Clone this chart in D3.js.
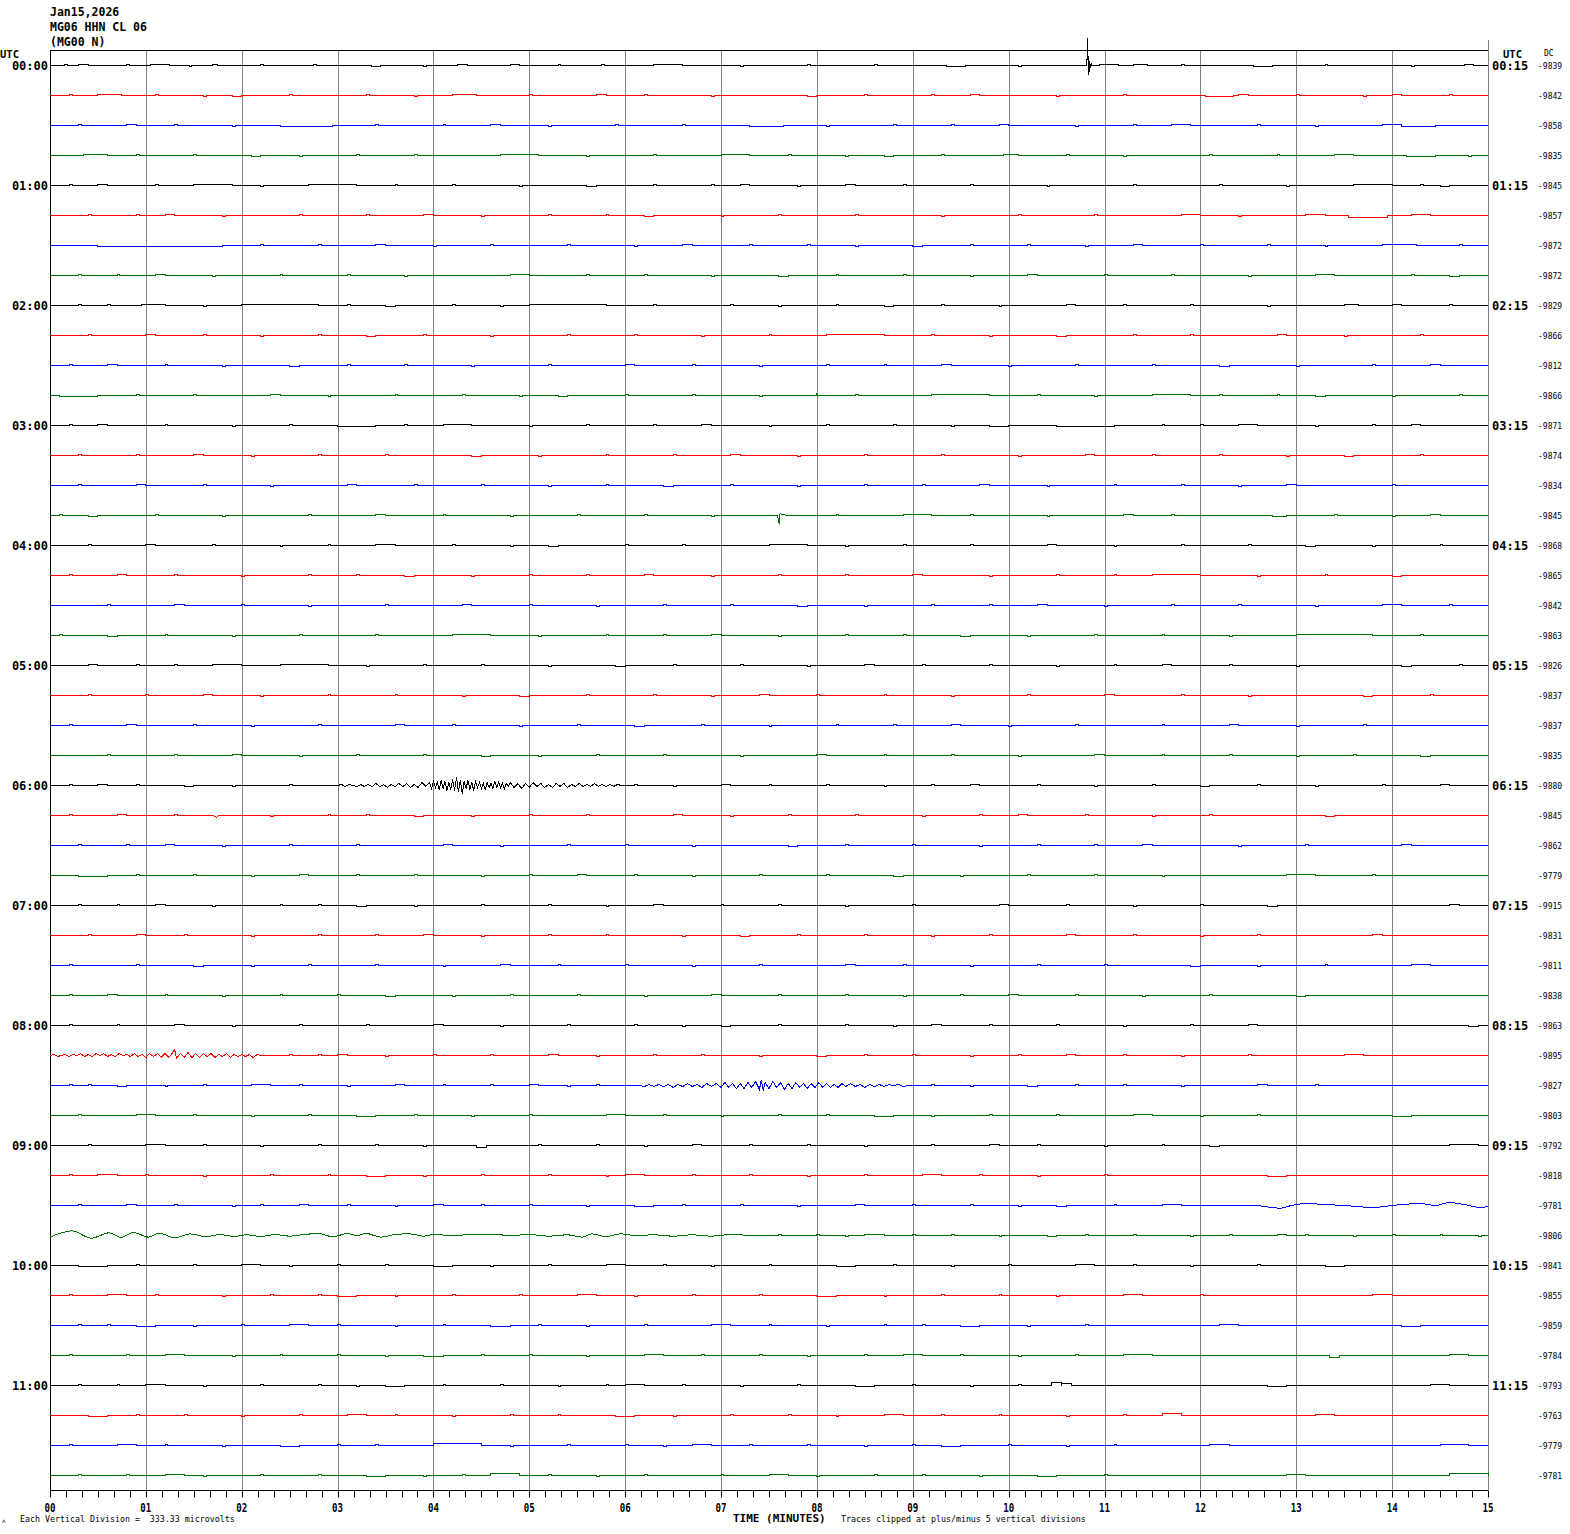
<!DOCTYPE html>
<html><head><meta charset="utf-8">
<script src="https://cdn.jsdelivr.net/npm/d3@7"></script>
<style>body{margin:0;background:#fff}svg{display:block;background:#fff}</style>
</head><body><svg id="c" width="1570" height="1534"></svg>
<script>
// ---------------- DATA ----------------
const titleLines = ["Jan15,2026", "MG06 HHN CL 06", "(MG00 N)"];
const leftHourLabels = ["00:00","01:00","02:00","03:00","04:00","05:00","06:00","07:00","08:00","09:00","10:00","11:00"];
const rightHourLabels = ["00:15","01:15","02:15","03:15","04:15","05:15","06:15","07:15","08:15","09:15","10:15","11:15"];
const minuteLabels = ["00","01","02","03","04","05","06","07","08","09","10","11","12","13","14","15"];
const dcValues = [-9839,-9842,-9858,-9835,-9845,-9857,-9872,-9872,-9829,-9866,-9812,-9866,
  -9871,-9874,-9834,-9845,-9868,-9865,-9842,-9863,-9826,-9837,-9837,-9835,
  -9880,-9845,-9862,-9779,-9915,-9831,-9811,-9838,-9863,-9895,-9827,-9803,
  -9792,-9818,-9781,-9806,-9841,-9855,-9859,-9784,-9793,-9763,-9779,-9781];
const traceColors = ["#000000", "#ff0000", "#0000ff", "#007000"];
const footLeft = "Each Vertical Division =  333.33 microvolts";
const footRight = "Traces clipped at plus/minus 5 vertical divisions";
const axisTitle = "TIME (MINUTES)";

// small steps on each trace: [startMinute, endMinute, microvolts]
const traceBumps = [
 [[0.3,0.4,33],[1.05,1.25,33],[1.7,1.75,33],[3.35,3.45,-33],[4.25,4.35,33],[4.8,4.9,33],[6.3,6.6,33],[9.35,9.55,-33],[10.95,11.15,33],[11.3,11.45,33],[12.55,12.75,-33],[14.75,14.85,33]],
 [[0.5,0.75,33],[1.9,2.0,-33],[4.2,4.45,33],[5.7,5.8,33],[7.9,8.0,-33],[9.6,9.7,33],[12.05,12.35,-33],[12.4,12.5,33],[14.0,14.1,33]],
 [[0.8,0.9,33],[2.4,2.95,-33],[4.6,4.7,33],[7.3,7.65,-33],[9.9,10.0,33],[11.7,11.9,33],[13.9,14.1,33],[14.1,14.45,-33]],
 [[0.35,0.6,33],[2.1,2.2,-33],[4.7,5.1,33],[7.0,7.3,33],[8.7,8.8,-33],[9.95,10.1,33],[13.4,13.6,33],[14.15,14.45,-33]],
 [[0.5,0.6,33],[1.5,1.9,33],[2.7,3.2,33],[5.6,5.7,-33],[7.2,7.3,33],[8.3,8.4,33],[13.6,14.0,33],[14.5,14.6,-33]],
 [[1.2,1.3,33],[3.9,4.0,33],[6.2,6.3,-33],[11.8,12.0,33],[13.1,13.3,33],[13.55,13.95,-66],[14.2,14.4,33]],
 [[0.5,1.8,-33],[3.4,3.5,33],[6.6,6.7,33],[9.0,9.1,-33],[11.3,11.4,33],[13.9,14.25,33]],
 [[1.1,1.2,33],[4.8,5.0,33],[7.6,7.7,-33],[10.2,10.3,33],[13.2,13.4,33],[14.6,14.7,-33]],
 [[0.95,1.2,33],[2.0,2.8,33],[3.5,3.6,-33],[5.0,5.8,33],[8.7,8.8,-33],[10.6,10.7,33],[13.5,13.65,33],[14.0,14.1,33]],
 [[1.0,1.1,33],[3.3,3.4,-33],[8.1,8.7,33],[10.5,10.6,-33],[12.8,12.9,33]],
 [[0.6,0.7,33],[2.5,2.6,-33],[6.0,6.1,33],[9.3,9.4,33],[12.2,12.3,-33],[14.4,14.5,33]],
 [[0.1,0.5,-33],[2.3,2.4,33],[5.3,5.4,-33],[9.2,9.8,33],[11.5,11.9,33],[13.2,13.3,-33]],
 [[0.5,0.6,33],[3.0,3.4,-33],[4.1,4.4,33],[6.8,6.9,33],[9.8,10.0,-33],[10.5,11.1,-33],[12.4,12.6,33],[14.2,14.3,33]],
 [[1.5,1.6,33],[4.4,4.5,-33],[7.1,7.2,33],[10.8,10.9,33],[13.5,13.6,-33]],
 [[0.9,1.0,33],[3.1,3.2,33],[6.4,6.5,-33],[9.7,9.8,33],[12.9,13.0,33]],
 [[0.4,0.5,-33],[3.4,3.5,33],[8.9,9.2,33],[11.2,11.3,33],[12.75,12.9,-33],[14.4,14.5,33]],
 [[1.0,1.1,33],[3.4,3.6,33],[5.2,5.3,-33],[7.5,7.9,33],[10.4,10.5,33],[13.1,13.2,-33]],
 [[0.7,0.8,33],[3.7,3.8,-33],[6.2,6.3,33],[9.0,9.1,33],[11.5,12.0,33],[14.0,14.1,-33]],
 [[1.3,1.4,33],[4.3,4.4,33],[7.8,7.9,-33],[10.3,10.4,33],[13.9,14.1,33]],
 [[0.6,0.7,-33],[4.2,4.6,33],[6.9,7.0,33],[9.5,9.6,-33],[13.0,13.8,33]],
 [[0.4,0.5,33],[1.7,2.0,33],[2.4,2.9,33],[5.9,6.0,-33],[8.5,8.6,33],[11.6,11.7,33],[14.1,14.2,-33]],
 [[1.6,1.7,33],[4.9,5.0,-33],[7.4,7.5,33],[11.0,11.1,33],[13.7,13.8,-33]],
 [[0.8,0.9,33],[3.6,3.7,33],[6.1,6.2,-33],[9.4,9.5,33],[12.3,12.4,33]],
 [[1.9,2.0,33],[4.5,4.6,-33],[8.0,8.1,33],[10.9,11.0,33],[14.3,14.4,-33]],
 [[0.5,0.6,33],[1.4,1.5,-33],[7.0,7.1,33],[9.6,9.7,33],[12.0,12.1,-33],[14.5,14.6,33]],
 [[0.7,0.8,33],[3.8,3.9,-33],[6.5,6.6,33],[10.1,10.2,33],[13.3,13.4,-33]],
 [[1.2,1.3,33],[4.1,4.2,33],[7.7,7.8,-33],[11.4,11.5,33],[14.1,14.2,33]],
 [[0.3,0.6,-33],[2.6,2.7,33],[5.5,5.6,33],[8.8,8.9,-33],[12.9,13.2,33]],
 [[1.1,1.2,33],[3.2,3.3,-33],[6.3,6.4,33],[9.9,10.0,33],[12.7,12.8,-33],[14.6,14.7,33]],
 [[0.9,1.0,33],[3.9,4.0,33],[7.2,7.3,-33],[10.6,10.7,33],[13.8,13.9,33]],
 [[1.5,1.6,-33],[4.7,4.8,33],[8.3,8.4,33],[11.9,12.0,-33],[14.2,14.4,33]],
 [[0.6,0.7,33],[3.5,3.6,-33],[6.9,7.0,33],[10.0,10.1,33],[13.0,13.1,-33]],
 [[1.3,1.4,33],[4.0,4.1,33],[7.0,7.1,-33],[9.2,9.3,33],[12.5,12.6,33],[14.8,14.9,-33]],
 [[3.0,3.1,33],[5.2,5.3,33],[8.0,8.1,-33],[10.6,10.7,33],[13.5,13.7,33]],
 [[0.7,0.8,-33],[2.1,2.3,33],[3.6,3.7,33],[5.0,5.1,33],[10.2,10.3,-33],[12.6,12.7,33]],
 [[0.9,1.1,33],[3.2,3.4,-33],[5.8,6.0,33],[8.6,8.8,-33],[11.3,11.5,33],[14.0,14.2,-33]],
 [[1.0,1.2,33],[4.45,4.55,-66],[6.7,6.8,33],[9.8,9.9,33],[12.1,12.2,-33],[14.6,14.9,33]],
 [[0.5,0.7,33],[3.3,3.5,-33],[6.0,6.2,33],[9.1,9.3,33],[12.7,12.9,-33]],
 [[0.8,0.9,33],[2.6,2.7,33],[4.0,4.1,33],[6.1,6.3,-33],[8.4,8.5,33],[10.5,10.6,-33],[11.6,11.8,33]],
 [[8.5,8.7,33],[10.4,10.5,-33],[12.8,12.9,33]],
 [[0.3,0.6,-33],[2.0,2.2,33],[4.0,4.2,-33],[5.8,6.0,33],[8.2,8.4,-33],[10.7,10.9,33],[13.3,13.5,-33]],
 [[0.6,0.8,33],[3.0,3.2,-33],[5.5,5.7,33],[8.0,8.2,-33],[11.2,11.4,33],[13.8,14.0,33]],
 [[0.9,1.1,-33],[2.5,2.7,33],[4.6,4.8,-33],[6.9,7.1,33],[9.5,9.7,-33],[12.2,12.4,33],[14.1,14.3,-33]],
 [[1.2,1.4,33],[3.9,4.1,-33],[6.2,6.4,33],[8.9,9.1,33],[11.2,11.5,33],[13.35,13.45,-66],[14.6,14.8,33]],
 [[1.0,1.2,33],[3.5,3.7,-33],[6.0,6.2,33],[8.4,8.6,-33],[10.45,10.55,100],[10.55,10.66,66],[12.7,12.9,-33],[14.4,14.6,33]],
 [[0.4,0.6,-33],[3.1,3.3,33],[5.9,6.1,-33],[8.7,8.9,33],[11.6,11.8,66],[13.2,13.4,33]],
 [[0.7,0.9,33],[2.4,2.6,-33],[4.0,4.5,66],[6.7,6.9,33],[9.3,9.5,-33],[12.1,12.3,33],[14.5,14.8,33]],
 [[1.2,1.4,33],[3.3,3.5,-33],[4.6,4.9,66],[7.5,7.7,33],[10.3,10.5,-33],[12.9,13.1,33],[14.6,15.0,66]]
];

// minute marks of short one-pixel flicks (the background noise) on each trace
const traceTicks = [
 [0.15,0.8,1.45,2.2,2.75,3.9,5.3,5.75,7.2,7.9,8.6,10.1,11.8,13.3,14.2],
 [0.2,1.1,1.6,2.5,3.3,3.8,5.0,6.2,6.9,8.5,9.2,10.5,11.2,13.0,13.7,14.6],
 [0.3,1.3,1.9,3.4,4.1,5.2,5.9,6.6,8.1,8.8,9.4,10.7,11.3,12.6,13.2],
 [0.9,1.5,2.6,3.2,3.8,5.6,6.3,7.7,8.3,9.3,10.6,11.2,12.1,12.8,14.8],
 [0.2,1.1,2.2,3.6,4.2,4.9,6.3,6.9,7.8,8.9,9.6,10.4,11.3,12.2,12.9,14.3],
 [0.4,0.9,1.8,2.6,3.3,4.5,5.2,5.8,7.0,7.6,8.4,9.3,10.1,10.9,12.4],
 [2.2,2.8,4.0,4.6,5.4,6.1,7.3,7.9,8.4,9.6,10.2,10.8,12.0,12.7,13.3,14.7],
 [0.3,0.7,1.7,2.4,3.1,3.7,5.6,6.2,6.9,8.2,8.9,9.6,11.0,11.7,12.5,14.2],
 [0.3,0.6,1.6,3.1,4.2,4.7,6.3,7.1,7.6,8.2,9.3,9.9,11.2,11.9,12.7,14.6],
 [0.4,1.6,2.2,2.8,3.9,4.6,5.4,6.1,6.8,7.5,9.2,9.8,11.3,11.9,13.5,14.3],
 [0.2,1.2,1.8,3.1,3.7,4.4,5.2,6.7,7.4,8.1,8.7,10.0,10.7,11.5,13.0,13.8],
 [0.9,1.5,2.9,3.6,4.3,4.9,6.0,6.7,7.4,8.4,10.3,10.9,12.2,12.8,14.0,14.7],
 [0.2,1.2,1.9,2.5,3.7,5.0,5.6,6.3,7.5,8.1,8.8,9.4,11.6,12.0,13.2,13.8],
 [0.3,0.9,2.1,2.8,3.5,5.1,5.8,6.5,7.8,8.5,9.3,10.1,11.5,12.2,12.9,14.3],
 [0.3,1.6,2.3,3.8,4.5,5.2,5.8,7.1,7.8,8.5,9.1,10.4,11.1,11.8,12.4,14.0],
 [0.1,1.1,1.8,2.7,4.1,4.8,5.5,6.2,6.9,8.2,9.6,10.4,11.7,13.4,14.0],
 [0.4,1.7,2.4,2.9,4.2,4.8,6.0,6.6,8.3,8.9,9.6,11.1,11.8,12.5,13.8,14.5],
 [0.2,1.3,2.0,2.7,3.2,4.4,5.0,5.6,6.9,7.6,8.3,9.8,10.5,11.1,12.6,13.3],
 [0.6,2.0,2.7,3.5,5.0,5.7,6.4,7.1,8.5,9.2,9.8,11.0,11.7,12.4,13.2,14.6],
 [0.1,1.2,1.9,2.6,3.4,5.1,5.8,6.4,7.6,8.3,8.9,10.2,10.9,11.6,12.3,14.3],
 [0.9,1.3,3.3,3.9,4.5,5.2,6.5,7.2,7.9,9.1,9.8,10.5,11.1,12.3,13.0,14.7],
 [0.4,1.0,2.2,2.9,3.6,4.3,5.6,6.3,6.9,8.0,8.7,9.4,10.2,11.8,12.5,14.4],
 [0.2,1.5,2.1,2.8,4.2,4.9,5.5,6.8,7.5,8.2,8.8,10.0,10.7,11.6,13.0,13.7],
 [0.6,1.3,2.6,3.2,3.9,5.1,5.7,6.4,7.2,8.7,9.4,10.1,11.6,12.3,13.0,13.6],
 [0.2,0.9,1.9,2.5,6.1,6.5,7.5,8.1,8.7,9.2,10.3,10.9,11.5,12.6,13.2,13.9],
 [0.2,1.3,2.3,2.9,3.3,4.4,5.0,5.6,7.1,7.7,8.4,9.1,9.7,10.8,11.5,12.1],
 [0.3,0.8,1.8,2.5,3.2,4.7,5.4,6.0,6.7,8.3,9.0,9.7,10.3,10.9,12.4,13.1],
 [0.9,1.5,2.1,3.2,3.8,4.5,5.0,6.1,6.7,7.4,8.1,9.5,10.2,10.9,11.6,13.8],
 [0.3,0.7,1.7,2.4,2.8,3.8,4.5,5.2,5.8,7.0,7.6,8.3,9.0,10.6,11.3,12.0],
 [0.4,1.4,2.1,2.8,3.4,4.5,5.2,5.8,6.6,7.8,8.5,9.2,9.8,11.3,12.0,12.6],
 [0.2,0.9,2.1,2.7,3.4,4.1,5.3,6.0,6.7,7.4,8.9,9.6,10.3,11.0,12.6,13.3],
 [0.2,1.2,1.8,2.4,3.0,4.2,4.8,5.5,6.2,7.6,8.3,8.9,9.5,10.7,11.4,12.1],
 [0.2,0.7,1.9,2.6,3.3,4.7,5.4,6.1,6.6,7.6,8.3,8.8,9.8,10.5,11.2,11.9],
 [2.5,2.8,3.5,4.0,4.6,5.7,6.3,6.8,7.4,8.5,9.0,9.6,10.1,11.2,11.8,12.5],
 [0.2,0.4,1.2,1.6,2.6,3.1,4.1,4.6,5.4,5.7,9.2,9.6,10.7,11.2,11.8,13.2],
 [0.3,1.5,2.1,2.7,3.8,4.4,5.0,6.4,7.0,7.6,8.1,9.2,9.8,10.5,12.0,12.6],
 [0.4,1.6,2.2,2.8,3.4,3.9,5.1,5.7,6.2,7.3,7.9,8.5,9.2,10.3,11.0,11.6],
 [0.2,1.0,1.6,2.3,2.9,3.9,4.5,5.2,5.8,6.7,7.3,7.9,8.5,9.7,10.3,11.0],
 [0.3,1.3,1.9,2.2,3.1,3.6,4.5,5.0,5.6,6.6,7.2,7.8,9.0,9.6,10.1,11.1],
 [7.6,8.0,8.3,9.0,9.4,9.9,10.8,11.3,11.9,12.3,13.1,13.6,14.0,14.5,14.9],
 [0.9,1.5,2.5,3.0,3.5,4.6,5.2,6.4,6.9,7.5,8.8,9.4,10.0,11.3,11.9,12.6],
 [0.2,1.1,1.8,2.3,2.8,3.6,4.2,4.9,6.1,6.7,7.4,8.7,9.3,9.9,10.5,12.0],
 [0.3,0.6,1.5,2.0,3.0,3.6,4.1,5.1,5.6,6.2,7.5,8.1,8.7,9.1,10.2,10.8],
 [0.2,0.8,1.9,2.4,3.0,3.5,4.5,5.0,5.6,6.8,7.4,7.9,8.5,9.5,10.1,10.7],
 [0.3,0.7,1.6,2.2,2.8,3.2,4.1,4.7,5.3,5.8,6.6,7.2,7.8,9.0,9.6,10.1],
 [0.9,1.4,2.0,2.6,3.6,4.2,4.8,5.3,6.5,7.1,7.7,8.2,9.3,9.9,10.6,11.2],
 [0.2,1.2,1.8,3.0,3.4,4.8,5.4,6.0,6.4,7.3,7.9,8.5,9.0,10.0,10.6,11.1],
 [0.3,0.8,1.6,2.2,2.8,3.9,4.3,5.2,5.7,6.2,7.0,8.0,8.6,9.1,9.7,11.0]
];

// events: [minute, microvolts]
const spike0000 = [[10.815,0],[10.825,930],[10.83,-310],[10.835,330],[10.84,-200],[10.845,150],[10.85,-90],[10.86,60],[10.87,0]];
const blip0230 = [[7.99,0],[8.0,66],[8.01,0]];
const spike0345 = [[7.59,0],[7.605,-270],[7.615,66],[7.63,33],[7.66,33],[7.68,0]];
const quake0600 = [[3.00,0],[3.04,33],[3.08,-33],[3.12,33],[3.16,0],[3.20,-33],[3.24,33],[3.28,-33],[3.32,33],[3.36,-33],[3.40,66],[3.44,-33],[3.48,33],[3.52,-66],[3.56,33],[3.60,-33],[3.64,66],[3.68,-33],[3.72,66],[3.76,-66],[3.80,33],[3.84,-66],[3.88,100],[3.92,-33],
 [3.96,100],[3.98,-100],[4.00,133],[4.02,-66],[4.04,100],[4.06,-133],[4.08,166],[4.10,-100],[4.12,133],[4.14,-166],[4.16,100],[4.18,-133],[4.20,200],[4.22,-166],[4.24,266],[4.26,-200],[4.28,166],[4.30,-266],[4.32,133],[4.34,-100],[4.36,166],[4.38,-133],[4.40,100],[4.42,-166],[4.44,133],[4.46,-66],[4.48,100],[4.50,-100],[4.52,66],[4.54,-133],[4.56,100],[4.58,-66],[4.60,66],[4.62,-100],[4.64,133],[4.66,-66],[4.68,100],[4.70,-66],[4.72,66],[4.74,-100],[4.76,66],[4.78,-33],
 [4.80,100],[4.84,-66],[4.88,66],[4.92,-100],[4.96,66],[5.00,-66],[5.04,100],[5.08,-33],[5.12,66],[5.16,-66],[5.20,33],[5.24,-66],[5.28,66],[5.32,-33],[5.36,66],[5.40,-66],[5.44,33],[5.48,-33],[5.52,66],[5.56,-33],[5.60,33],[5.64,-33],[5.68,66],[5.72,-33],[5.76,33],[5.80,-33],[5.84,33],[5.88,-33],[5.92,33],[5.96,0]];
const blip0615 = [[1.70,0],[1.72,-33],[1.74,-66],[1.76,0]];
const noise0815 = [[0.00,0],[0.04,33],[0.08,-33],[0.12,0],[0.16,33],[0.20,-33],[0.24,33],[0.28,0],[0.32,66],[0.36,-33],[0.40,33],[0.44,-33],[0.48,66],[0.52,0],[0.56,66],[0.60,-33],[0.64,33],[0.68,-33],[0.72,66],[0.76,0],[0.80,33],[0.84,-33],[0.88,66],[0.92,-33],[0.96,33],[1.00,-66],[1.04,66],[1.08,-33],[1.12,66],[1.16,-66],[1.20,66],[1.24,-66],[1.28,100],[1.30,190],[1.32,-100],[1.36,66],[1.40,-66],[1.44,100],[1.48,-66],[1.52,66],[1.56,-66],[1.60,66],[1.64,-33],[1.68,66],[1.72,-66],[1.76,33],[1.80,-33],[1.84,66],[1.88,-66],[1.92,33],[1.96,-33],[2.00,33],[2.04,-33],[2.08,33],[2.12,-66],[2.16,33],[2.20,0]];
const quake0830 = [[6.15,0],[6.20,-33],[6.25,33],[6.30,-33],[6.35,33],[6.40,-33],[6.45,33],[6.50,-66],[6.55,33],[6.60,-33],[6.65,66],[6.70,-33],[6.75,33],[6.80,-66],[6.85,66],[6.90,-33],[6.95,66],[7.00,-66],[7.04,100],[7.08,-66],[7.12,66],[7.16,-100],[7.20,66],[7.24,-100],[7.28,100],[7.32,-66],[7.36,133],[7.40,-133],[7.42,190],[7.44,-170],[7.46,100],[7.50,-100],[7.54,133],[7.58,-66],[7.62,100],[7.66,-133],[7.70,66],[7.74,-100],[7.78,100],[7.82,-66],[7.86,66],[7.90,-100],[7.94,66],[7.98,-66],[8.02,100],[8.06,-66],[8.10,66],[8.14,-66],[8.18,33],[8.22,-66],[8.26,66],[8.30,-33],[8.35,66],[8.40,-33],[8.45,33],[8.50,-66],[8.55,33],[8.60,-33],[8.65,33],[8.70,-33],[8.75,33],[8.80,0],[8.85,33],[8.90,-33],[8.95,0]];
const waves0930 = [[12.6,0],[12.84,-90],[12.95,0],[13.1,66],[13.3,33],[13.5,0],[13.8,-66],[14.0,0],[14.3,66],[14.45,0],[14.6,100],[14.75,33],[14.92,-66],[15.0,-33]];
const waves0945 = [[0.00,-55],[0.23,155],[0.43,-90],[0.62,90],[0.74,-66],[0.87,100],[1.03,-55],[1.13,77],[1.31,-77],[1.46,55],[1.63,-44],[1.77,33],[1.92,-33],[2.05,22],[2.2,-33],[2.35,33],[2.5,-22],[2.65,33],[2.8,66],[2.95,-44],[3.1,66],[3.2,0],[3.3,66],[3.45,-55],[3.6,33],[3.75,55],[3.9,-22],[4.0,33],[4.2,0],[4.4,33],[4.6,44],[4.8,0],[5.0,33],[5.2,-22],[5.4,22],[5.55,-55],[5.65,55],[5.8,-33],[5.95,55],[6.1,0],[6.3,22],[6.5,-22],[6.7,22],[6.9,-22],[7.1,33],[7.3,0]];

const traceEvents = [
  {trace: 0,  points: spike0000, smooth: false},
  {trace: 11, points: blip0230,  smooth: false},
  {trace: 15, points: spike0345, smooth: false},
  {trace: 24, points: quake0600, smooth: false},
  {trace: 25, points: blip0615,  smooth: false},
  {trace: 33, points: noise0815, smooth: false},
  {trace: 34, points: quake0830, smooth: false},
  {trace: 38, points: waves0930, smooth: true},
  {trace: 39, points: waves0945, smooth: true}
];

// ---------------- DRAW ----------------
(function draw() {
const svg = d3.select("#c");
const W = 1570, H = 1534;
const pLeft = 50, pRight = 1488, pTop = 50, pBottom = 1490;
const nTraces = dcValues.length;

const x = d3.scaleLinear().domain([0, 15]).range([pLeft, pRight]);
const band = d3.scaleBand().domain(d3.range(nTraces)).range([pTop, pBottom]);
const yc = i => Math.round(band(i) + band.bandwidth() / 2);
const amp = d3.scaleLinear().domain([-333.33, 333.33]).range([10, -10]); // 1 division = 10 px

const mono = "'DejaVu Sans Mono', 'Liberation Mono', monospace";

svg.append("rect").attr("width", W).attr("height", H).attr("fill", "#fff");

// gridlines
svg.append("g").selectAll("line").data(d3.range(1, 16)).join("line")
  .attr("x1", d => Math.round(x(d)) + 0.5).attr("x2", d => Math.round(x(d)) + 0.5)
  .attr("y1", d => d === 15 ? 40 : pTop).attr("y2", pBottom)
  .attr("stroke", "#808080").attr("stroke-width", 1);

// borders
svg.append("line").attr("x1", pLeft + 0.5).attr("x2", pLeft + 0.5).attr("y1", pTop).attr("y2", pBottom)
  .attr("stroke", "#000");
svg.append("line").attr("x1", pLeft).attr("x2", pRight).attr("y1", pTop + 0.5).attr("y2", pTop + 0.5)
  .attr("stroke", "#000");

// traces
const line = d3.line().x(d => x(d[0])).y(d => amp(d[1])).defined(d => !isNaN(d[1]));
const lineSmooth = d3.line().x(d => x(d[0])).y(d => amp(d[1])).curve(d3.curveMonotoneX);

const traceG = svg.append("g");
for (let i = 0; i < nTraces; i++) {
  const color = traceColors[i % 4];
  const g = traceG.append("g").attr("transform", `translate(0,${yc(i) + 0.5})`);
  const evs = traceEvents.filter(e => e.trace === i);
  const busy = traceBumps[i].map(b => [b[0], b[1]])
    .concat(evs.map(e => [e.points[0][0], e.points[e.points.length - 1][0]]));
  let pts = [];
  const starts0 = evs.some(e => e.points[0][0] === 0);
  const ends15 = evs.some(e => e.points[e.points.length - 1][0] === 15);
  if (!starts0) pts.push([0, 0]);
  traceBumps[i].forEach(b => { pts.push([b[0], 0], [b[0], b[2]], [b[1], b[2]], [b[1], 0]); });
  traceTicks[i].forEach((t, k) => {
    if (busy.some(r => t > r[0] - 0.06 && t < r[1] + 0.06)) return;
    const v = (k % 3 === 2) ? -33 : 33;
    pts.push([t, 0], [t, v], [t + 0.03, v], [t + 0.03, 0]);
  });
  evs.forEach(e => {
    const a = e.points[0][0], z = e.points[e.points.length - 1][0];
    pts.push([a, e.points[0][1]], [(a + z) / 2, NaN], [z, e.points[e.points.length - 1][1]]);
  });
  if (!ends15) pts.push([15, 0]);
  pts.sort((p, q) => p[0] - q[0]);
  g.append("path").attr("d", line(pts)).attr("fill", "none").attr("stroke", color)
    .attr("stroke-width", 1).attr("shape-rendering", "crispEdges");
  evs.forEach(e => {
    g.append("path").attr("d", (e.smooth ? lineSmooth : line)(e.points)).attr("fill", "none")
      .attr("stroke", color).attr("stroke-width", 1)
      .attr("shape-rendering", "crispEdges");
  });
}

// bottom axis
const axisG = svg.append("g").attr("transform", `translate(0,${pBottom + 0.5})`);
axisG.append("line").attr("x1", pLeft).attr("x2", pRight).attr("stroke", "#000");
axisG.selectAll("line.minor").data(d3.range(0, 91)).join("line").attr("class", "minor")
  .attr("x1", d => Math.round(x(d / 6)) + 0.5).attr("x2", d => Math.round(x(d / 6)) + 0.5)
  .attr("y1", 0).attr("y2", 7).attr("stroke", "#000");
axisG.selectAll("text").data(minuteLabels).join("text")
  .attr("x", (d, i) => x(i)).attr("y", 21).attr("text-anchor", "middle")
  .attr("font-family", mono).attr("font-weight", "bold").attr("font-size", 12)
  .attr("textLength", 11).attr("lengthAdjust", "spacingAndGlyphs")
  .text(d => d);

// title
svg.append("g").selectAll("text").data(titleLines).join("text")
  .attr("x", 50).attr("y", (d, i) => 16 + i * 15)
  .attr("font-family", mono).attr("font-weight", "bold").attr("font-size", 11.5)
  .text(d => d);

// UTC headers
svg.append("text").attr("x", 0).attr("y", 58).attr("font-family", mono).attr("font-weight", "bold")
  .attr("font-size", 10.5).text("UTC");
svg.append("text").attr("x", 1503).attr("y", 58).attr("font-family", mono).attr("font-weight", "bold")
  .attr("font-size", 10.5).text("UTC");
svg.append("text").attr("x", 1544).attr("y", 56).attr("font-family", mono)
  .attr("font-size", 8).text("DC");

// hour labels
svg.append("g").selectAll("text").data(leftHourLabels).join("text")
  .attr("x", 48).attr("y", (d, k) => yc(k * 4) + 5).attr("text-anchor", "end")
  .attr("font-family", mono).attr("font-weight", "bold").attr("font-size", 12)
  .text(d => d);
svg.append("g").selectAll("text").data(rightHourLabels).join("text")
  .attr("x", 1492).attr("y", (d, k) => yc(k * 4) + 5)
  .attr("font-family", mono).attr("font-weight", "bold").attr("font-size", 12)
  .text(d => d);

// DC values
svg.append("g").selectAll("text").data(dcValues).join("text")
  .attr("x", 1538).attr("y", (d, i) => yc(i) + 4)
  .attr("font-family", mono).attr("font-size", 8)
  .text(d => String(d));

// footer
svg.append("text").attr("x", 2).attr("y", 1523).attr("font-family", mono).attr("font-size", 6).text("ʌ");
svg.append("text").attr("x", 20).attr("y", 1522).attr("font-family", mono).attr("font-size", 8.3)
  .style("white-space", "pre").text(footLeft);
svg.append("text").attr("x", 733).attr("y", 1522).attr("font-family", mono).attr("font-weight", "bold")
  .attr("font-size", 11).text(axisTitle);
svg.append("text").attr("x", 841).attr("y", 1522).attr("font-family", mono).attr("font-size", 8.3)
  .text(footRight);
})();
</script>
</body></html>
